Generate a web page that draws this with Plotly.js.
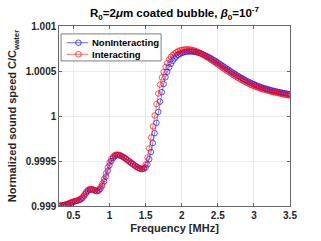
<!DOCTYPE html>
<html>
<head>
<meta charset="utf-8">
<script src="https://cdn.plot.ly/plotly-3.0.1.min.js"></script>
<style>html,body{margin:0;padding:0;background:#fff;}#chart{width:321px;height:241px;}</style>
</head>
<body>
<div id="chart"></div>
<script>
const freq = [0.300,0.325,0.350,0.375,0.400,0.425,0.450,0.475,0.500,0.525,0.550,0.575,0.600,0.625,0.650,0.675,0.700,0.725,0.750,0.775,0.800,0.825,0.850,0.875,0.900,0.925,0.950,0.975,1.000,1.025,1.050,1.075,1.100,1.125,1.150,1.175,1.200,1.225,1.250,1.275,1.300,1.325,1.350,1.375,1.400,1.425,1.450,1.475,1.500,1.525,1.550,1.575,1.600,1.625,1.650,1.675,1.700,1.725,1.750,1.775,1.800,1.825,1.850,1.875,1.900,1.925,1.950,1.975,2.000,2.025,2.050,2.075,2.100,2.125,2.150,2.175,2.200,2.225,2.250,2.275,2.300,2.325,2.350,2.375,2.400,2.425,2.450,2.475,2.500,2.525,2.550,2.575,2.600,2.625,2.650,2.675,2.700,2.725,2.750,2.775,2.800,2.825,2.850,2.875,2.900,2.925,2.950,2.975,3.000,3.025,3.050,3.075,3.100,3.125,3.150,3.175,3.200,3.225,3.250,3.275,3.300,3.325,3.350,3.375,3.400,3.425,3.450,3.475,3.500];

const nonInteracting = [0.999000,0.999003,0.999006,0.999010,0.999015,0.999021,0.999029,0.999038,0.999046,0.999052,0.999057,0.999064,0.999073,0.999088,0.999112,0.999140,0.999165,0.999180,0.999186,0.999182,0.999172,0.999164,0.999170,0.999192,0.999227,0.999272,0.999328,0.999392,0.999452,0.999500,0.999533,0.999555,0.999565,0.999566,0.999561,0.999552,0.999540,0.999527,0.999512,0.999497,0.999482,0.999467,0.999452,0.999438,0.999426,0.999416,0.999410,0.999412,0.999428,0.999462,0.999520,0.999600,0.999700,0.999810,0.999925,1.000045,1.000160,1.000265,1.000355,1.000430,1.000490,1.000540,1.000580,1.000613,1.000640,1.000661,1.000678,1.000691,1.000700,1.000707,1.000712,1.000715,1.000717,1.000717,1.000716,1.000713,1.000709,1.000704,1.000698,1.000691,1.000683,1.000674,1.000664,1.000654,1.000643,1.000631,1.000619,1.000606,1.000593,1.000580,1.000566,1.000552,1.000539,1.000525,1.000512,1.000498,1.000485,1.000472,1.000459,1.000447,1.000435,1.000423,1.000412,1.000401,1.000390,1.000380,1.000370,1.000361,1.000352,1.000343,1.000335,1.000328,1.000320,1.000313,1.000307,1.000301,1.000295,1.000289,1.000284,1.000279,1.000274,1.000270,1.000265,1.000261,1.000257,1.000253,1.000249,1.000245,1.000242];

const interacting = [0.999002,0.999006,0.999008,0.999013,0.999019,0.999026,0.999036,0.999044,0.999050,0.999056,0.999061,0.999069,0.999080,0.999100,0.999128,0.999156,0.999178,0.999189,0.999189,0.999180,0.999170,0.999167,0.999183,0.999211,0.999250,0.999300,0.999361,0.999428,0.999483,0.999522,0.999550,0.999567,0.999572,0.999569,0.999561,0.999550,0.999536,0.999522,0.999506,0.999491,0.999476,0.999461,0.999447,0.999433,0.999422,0.999413,0.999411,0.999428,0.999461,0.999539,0.999639,0.999761,0.999883,1.000006,1.000133,1.000250,1.000350,1.000428,1.000489,1.000544,1.000589,1.000628,1.000656,1.000678,1.000694,1.000708,1.000719,1.000728,1.000733,1.000738,1.000740,1.000741,1.000740,1.000738,1.000733,1.000728,1.000720,1.000711,1.000701,1.000690,1.000679,1.000667,1.000654,1.000641,1.000628,1.000614,1.000601,1.000587,1.000572,1.000559,1.000544,1.000530,1.000517,1.000503,1.000490,1.000477,1.000463,1.000450,1.000438,1.000426,1.000413,1.000402,1.000391,1.000380,1.000370,1.000360,1.000350,1.000341,1.000332,1.000324,1.000317,1.000310,1.000303,1.000297,1.000291,1.000286,1.000280,1.000274,1.000269,1.000264,1.000260,1.000256,1.000251,1.000247,1.000242,1.000238,1.000233,1.000230,1.000227];

const seriesNames = ['NonInteracting', 'Interacting'];
const seriesColors = ['#0000ff', '#ff0000'];
const xTickVals = [0.5, 1, 1.5, 2, 2.5, 3, 3.5];
const xTickText = ['0.5', '1', '1.5', '2', '2.5', '3', '3.5'];
const yTickVals = [0.999, 0.9995, 1, 1.0005, 1.001];
const yTickText = ['0.999', '0.9995', '1', '1.0005', '1.001'];

const FONT = 'Liberation Sans, Arial, sans-serif';

function mk(y, name, color) {
  return {
    x: freq, y: y, name: name, type: 'scatter', mode: 'lines+markers',
    line: {color: color, width: 0.5},
    marker: {symbol: 'circle-open', size: 5.5, color: color, line: {color: color, width: 0.65}},
    showlegend: false
  };
}

const data = [mk(nonInteracting, seriesNames[0], seriesColors[0]), mk(interacting, seriesNames[1], seriesColors[1])];

const axisCommon = {
  showline: true, linecolor: '#262626', linewidth: 0.7, mirror: 'ticks',
  ticks: 'inside', ticklen: 3, tickwidth: 0.7, tickcolor: '#262626',
  showgrid: true, gridcolor: '#e3e3e3', gridwidth: 0.7, zeroline: false,
  tickfont: {family: FONT, size: 10, color: '#262626', weight: 'bold'}
};

// custom legend box (paper coordinates)
const legBox = {x0: 0.009, x1: 0.442, y0: 0.806, y1: 0.956};
const legRowsY = [0.907, 0.843];
const legLineX = [0.033, 0.126];
const legMarkX = 0.084;
const legTextX = 0.135;

const shapes = [{type: 'rect', xref: 'paper', yref: 'paper', x0: legBox.x0, x1: legBox.x1, y0: legBox.y0, y1: legBox.y1,
  line: {color: '#262626', width: 0.6}, fillcolor: '#ffffff', layer: 'above'}];
const annotations = [];
seriesNames.forEach((nm, i) => {
  shapes.push({type: 'line', xref: 'paper', yref: 'paper', x0: legLineX[0], x1: legLineX[1], y0: legRowsY[i], y1: legRowsY[i],
    line: {color: seriesColors[i], width: 0.6}, layer: 'above'});
  shapes.push({type: 'circle', xref: 'paper', yref: 'paper', xsizemode: 'pixel', ysizemode: 'pixel',
    xanchor: legMarkX, yanchor: legRowsY[i], x0: -2.8, x1: 2.8, y0: -2.8, y1: 2.8,
    line: {color: seriesColors[i], width: 0.7}, layer: 'above'});
  annotations.push({xref: 'paper', yref: 'paper', x: legTextX, y: legRowsY[i], xanchor: 'left', yanchor: 'middle',
    text: nm, showarrow: false, font: {family: FONT, size: 9.5, color: '#000000', weight: 'bold'}});
});

const layout = {
  width: 321, height: 241,
  margin: {l: 59, r: 31, t: 26, b: 35, pad: 0},
  paper_bgcolor: '#ffffff', plot_bgcolor: '#ffffff',
  showlegend: false,
  title: {
    text: 'R<sub>0</sub>=2<i>μ</i>m coated bubble, <i>β</i><sub>0</sub>=10<sup>-7</sup>',
    font: {family: FONT, size: 11.5, color: '#000000', weight: 'bold'},
    x: 0.5, xref: 'paper', xanchor: 'center',
    y: 0.945, yref: 'container', yanchor: 'middle'
  },
  xaxis: Object.assign({}, axisCommon, {
    range: [0.3, 3.5], tickmode: 'array', tickvals: xTickVals, ticktext: xTickText,
    title: {text: 'Frequency [MHz]', standoff: 4, font: {family: FONT, size: 11, color: '#262626', weight: 'bold'}}
  }),
  yaxis: Object.assign({}, axisCommon, {
    range: [0.999, 1.001], tickmode: 'array', tickvals: yTickVals, ticktext: yTickText,
    title: {text: 'Normalized sound speed C/C<sub>water</sub>', standoff: 6, font: {family: FONT, size: 11, color: '#262626', weight: 'bold'}}
  }),
  shapes: shapes,
  annotations: annotations
};

Plotly.newPlot('chart', data, layout, {staticPlot: true, displayModeBar: false});
</script>
</body>
</html>
